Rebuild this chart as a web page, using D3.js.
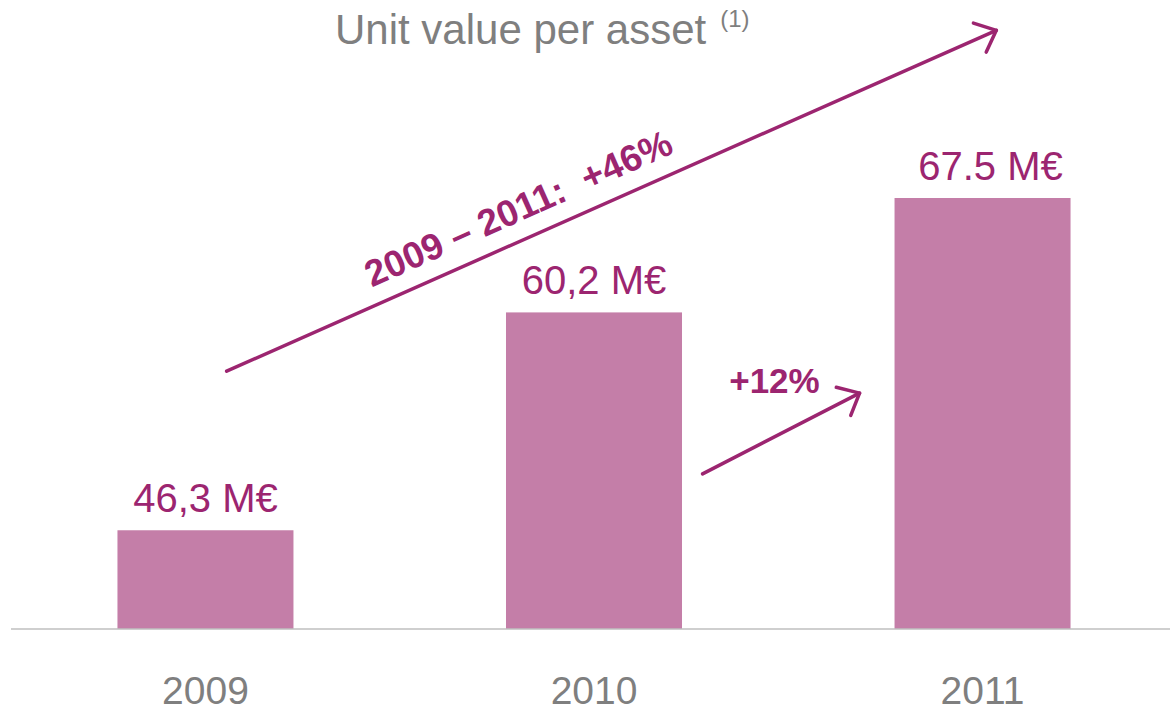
<!DOCTYPE html>
<html>
<head>
<meta charset="utf-8">
<script src="https://cdn.jsdelivr.net/npm/d3@7"></script>
<style>
  body { margin: 0; background: #fff; }
  text { font-family: "Liberation Sans", Arial, sans-serif; }
</style>
</head>
<body>
<div id="chart"></div>
<script>
var years = ["2009", "2010", "2011"];
var values = [46.3, 60.2, 67.5];
var valueLabels = ["46,3 M€", "60,2 M€", "67.5 M€"];
var title = "Unit value per asset";
var titleNote = "(1)";

// annotations, in (category index, value) units
var bigArrow = [[0.281, 56.45], [2.262, 78.2]];
var smallArrow = [[1.506, 49.9], [1.91, 55.05]];
var bigLabel = {text: "2009 \u2013 2011:  +46%", i: 1.045, v: 66.1, angle: -24};
var smallLabel = {text: "+12%", i: 1.691, v: 55.05};

var width = 1170, height = 711;
var purple = "#9C2570", barColor = "#C47EA8", grey = "#7F7F7F";

var svg = d3.select("#chart").append("svg")
  .attr("width", width)
  .attr("height", height);

var x = d3.scaleBand()
  .domain(years)
  .range([11, 1177])
  .paddingInner(0.547)
  .paddingOuter(0.274);

var y = d3.scaleLinear()
  .domain([40, 67.5])
  .range([629, 198]);

// position helpers for annotations
function px(i) { return x(years[0]) + i * x.step(); }

// bars
svg.selectAll(".bar")
  .data(values)
  .enter().append("rect")
  .attr("class", "bar")
  .attr("x", function(d, i) { return x(years[i]); })
  .attr("width", x.bandwidth())
  .attr("y", function(d) { return y(d); })
  .attr("height", function(d) { return y(40) - y(d); })
  .attr("fill", barColor);

// baseline
var xAxis = d3.axisBottom(x).tickSize(0).tickPadding(47);
var gx = svg.append("g")
  .attr("transform", "translate(0," + y(40) + ")")
  .call(xAxis);
gx.select(".domain").attr("stroke", "#BFBFBF").attr("stroke-width", 1.5)
  .attr("d", "M11,0H1170");
gx.selectAll("text")
  .attr("fill", grey)
  .style("font-size", "39px")
  .attr("dy", "0.71em");

// value labels
svg.selectAll(".vlabel")
  .data(values)
  .enter().append("text")
  .attr("class", "vlabel")
  .attr("x", function(d, i) { return x(years[i]) + x.bandwidth() / 2 + (i == 2 ? 8 : 0); })
  .attr("y", function(d) { return y(d) - 18; })
  .attr("text-anchor", "middle")
  .attr("fill", purple)
  .style("font-size", "40px")
  .text(function(d, i) { return valueLabels[i]; });

// title
var t = svg.append("text")
  .attr("x", 335)
  .attr("y", 44)
  .attr("fill", grey)
  .style("font-size", "42px");
t.append("tspan").text(title);
t.append("tspan").attr("dx", 14).attr("dy", -17).style("font-size", "24px").text(titleNote);

// arrows
function arrow(pts, sw, arm) {
  var x1 = px(pts[0][0]), y1 = y(pts[0][1]);
  var x2 = px(pts[1][0]), y2 = y(pts[1][1]);
  var a = Math.atan2(y2 - y1, x2 - x1);
  var g = svg.append("g")
    .attr("stroke", purple)
    .attr("stroke-width", sw)
    .attr("fill", "none")
    .attr("stroke-linecap", "round")
    .attr("stroke-linejoin", "round");
  g.append("line").attr("x1", x1).attr("y1", y1).attr("x2", x2).attr("y2", y2);
  var h = 0.72;
  g.append("path").attr("d",
    "M" + (x2 - arm * Math.cos(a - h)) + "," + (y2 - arm * Math.sin(a - h)) +
    "L" + x2 + "," + y2 +
    "L" + (x2 - arm * Math.cos(a + h)) + "," + (y2 - arm * Math.sin(a + h)));
}
arrow(bigArrow, 3.5, 24);
arrow(smallArrow, 3.5, 24);

svg.append("text")
  .attr("transform", "translate(" + px(bigLabel.i) + "," + y(bigLabel.v) + ") rotate(" + bigLabel.angle + ")")
  .attr("text-anchor", "middle")
  .attr("fill", purple)
  .style("font-size", "37px")
  .style("font-weight", "bold")
  .style("white-space", "pre")
  .text(bigLabel.text);

svg.append("text")
  .attr("x", px(smallLabel.i))
  .attr("y", y(smallLabel.v))
  .attr("text-anchor", "middle")
  .attr("fill", purple)
  .style("font-size", "35px")
  .style("font-weight", "bold")
  .text(smallLabel.text);
</script>
</body>
</html>
